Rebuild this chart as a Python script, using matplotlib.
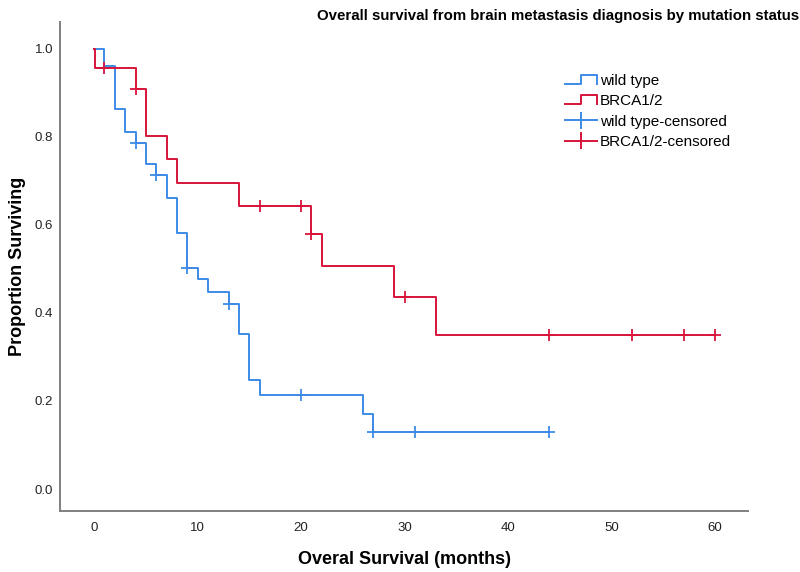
import matplotlib
matplotlib.use("Agg")
import matplotlib.pyplot as plt
from matplotlib.lines import Line2D
from matplotlib.legend_handler import HandlerBase

plt.rcParams['font.family'] = ['Liberation Sans', 'DejaVu Sans']

# Wild type step curve
wt_times = [0, 1, 2, 3, 4, 5, 6, 7, 8, 9, 10, 11, 13, 14, 15, 16, 26, 27, 44]
wt_surv = [1.0, 0.96, 0.863, 0.812, 0.786, 0.738, 0.714, 0.661, 0.582, 0.502,
           0.477, 0.448, 0.42, 0.352, 0.248, 0.213, 0.171, 0.130, 0.130]
wt_cens_t = [4, 6, 9, 13, 20, 27, 31, 44]
wt_cens_s = [0.786, 0.714, 0.502, 0.42, 0.213, 0.130, 0.130, 0.130]

# BRCA1/2 step curve
br_times = [0, 0.1, 4, 5, 7, 8, 14, 21, 22, 29, 33, 60]
br_surv = [1.0, 0.957, 0.909, 0.802, 0.75, 0.696, 0.643, 0.58, 0.507, 0.436, 0.35, 0.35]
br_cens_t = [1, 4, 16, 20, 21, 30, 44, 52, 57, 60]
br_cens_s = [0.957, 0.909, 0.643, 0.643, 0.58, 0.436, 0.35, 0.35, 0.35, 0.35]

x_ticks = [0, 10, 20, 30, 40, 50, 60]
y_ticks = [0.0, 0.2, 0.4, 0.6, 0.8, 1.0]

BLUE = '#3d8ae6'
RED = '#d8143a'

fig = plt.figure(figsize=(8, 5.72), dpi=100)
ax = fig.add_axes([0.075, 0.1066, 0.86, 0.855])

ax.step(wt_times, wt_surv, where='post', color=BLUE, lw=1.4)
ax.step(br_times, br_surv, where='post', color=RED, lw=1.4)
ax.plot(wt_cens_t, wt_cens_s, ls='none', marker='+', ms=9, mew=1.3, color=BLUE)
ax.plot(br_cens_t, br_cens_s, ls='none', marker='+', ms=9, mew=1.3, color=RED)

ax.set_xlim(-3.3, 63.2)
ax.set_ylim(-0.05, 1.061)
ax.set_xticks(x_ticks)
ax.set_yticks(y_ticks)
ax.set_yticklabels([f'{v:.1f}' for v in y_ticks])
ax.tick_params(length=0, labelsize=9.5, colors='#222222')
ax.tick_params(axis='y', pad=5)
ax.tick_params(axis='x', pad=8)
for s in ['top', 'right']:
    ax.spines[s].set_visible(False)
for s in ['left', 'bottom']:
    ax.spines[s].set_color('#7f7f7f')
    ax.spines[s].set_linewidth(1.4)

ax.set_xlabel('Overal Survival (months)', fontsize=13, fontweight='bold', labelpad=12)
ax.set_ylabel('Proportion Surviving', fontsize=13, fontweight='bold', labelpad=6)
fig.text(0.999, 0.985, 'Overall survival from brain metastasis diagnosis by mutation status',
         ha='right', va='top', fontsize=10.8, fontweight='bold')


class StepHandler(HandlerBase):
    def create_artists(self, legend, orig_handle, xdescent, ydescent, width, height, fontsize, trans):
        x0, x1 = -xdescent, -xdescent + width
        yb, yt = -ydescent + 0.1 * height, -ydescent + 0.95 * height
        xm = x0 + 0.5 * width
        line = Line2D([x0, xm, xm, x1, x1], [yb, yb, yt, yt, yb],
                      color=orig_handle.get_color(), lw=1.4, transform=trans)
        return [line]


class CensHandler(HandlerBase):
    def create_artists(self, legend, orig_handle, xdescent, ydescent, width, height, fontsize, trans):
        x0, x1 = -xdescent, -xdescent + width
        ym = -ydescent + 0.5 * height
        xm = x0 + 0.5 * width
        line = Line2D([x0, x1], [ym, ym], color=orig_handle.get_color(), lw=1.4, transform=trans)
        vert = Line2D([xm, xm], [ym - 0.7 * height, ym + 0.7 * height],
                      color=orig_handle.get_color(), lw=1.4, transform=trans)
        return [line, vert]


h1 = Line2D([], [], color=BLUE)
h2 = Line2D([], [], color=RED)
h3 = Line2D([], [], color=BLUE)
h4 = Line2D([], [], color=RED)
leg = ax.legend([h1, h2, h3, h4],
                ['wild type', 'BRCA1/2', 'wild type-censored', 'BRCA1/2-censored'],
                handler_map={h1: StepHandler(), h2: StepHandler(),
                             h3: CensHandler(), h4: CensHandler()},
                loc='upper left', bbox_to_anchor=(0.714, 0.922), frameon=False,
                fontsize=11, handlelength=2.1, handletextpad=0.2, labelspacing=0.42)

fig.savefig('out.png', dpi=100)
